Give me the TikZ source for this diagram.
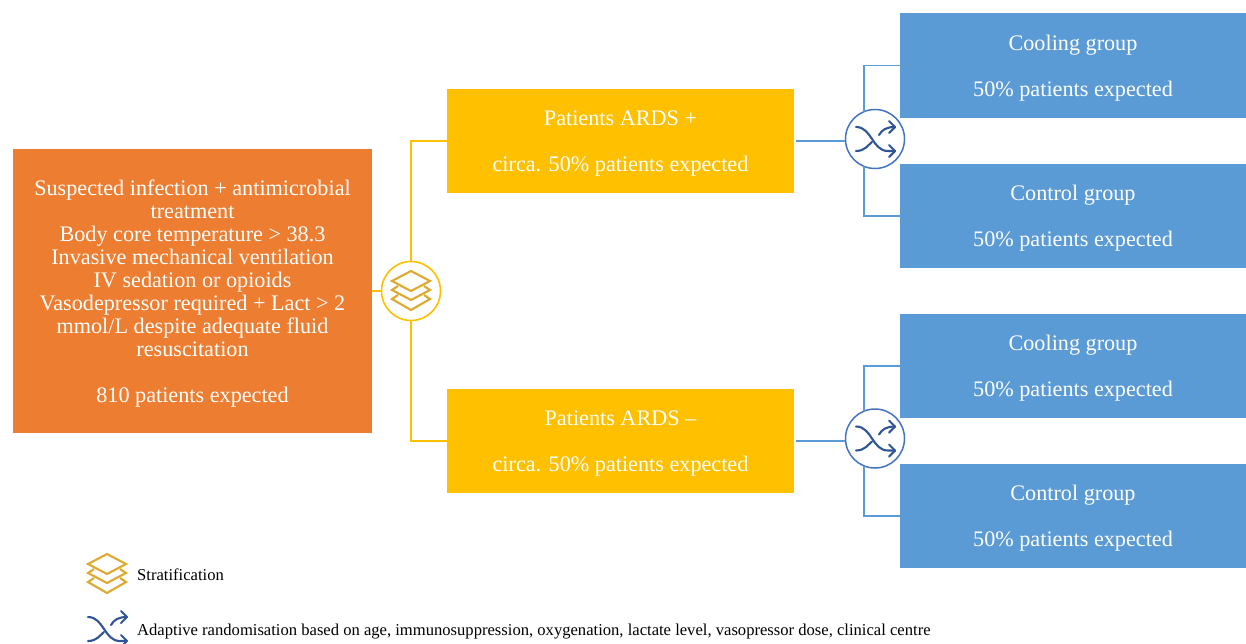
\documentclass[tikz,border=0pt]{standalone}
\usepackage{fontspec}
\setmainfont{Liberation Serif}
\definecolor{orangebox}{HTML}{ED7D31}
\definecolor{yellowbox}{HTML}{FFC000}
\definecolor{bluebox}{HTML}{5B9BD5}
\definecolor{stackcol}{HTML}{DDA92F}
\definecolor{shufflecol}{HTML}{2F5597}
\definecolor{ringblue}{HTML}{4472C4}
\tikzset{
  x=1pt,y=-1pt,
  box/.style={draw=none,inner sep=0pt,text=white,align=center,text depth=0pt,font=\fontsize{22.2}{23}\selectfont},
  orangenode/.style={box,fill=orangebox,minimum width=359pt,minimum height=284pt},
  yellownode/.style={box,fill=yellowbox,minimum width=347pt,minimum height=104pt},
  bluenode/.style={box,fill=bluebox,minimum width=346pt,minimum height=104.4pt},
  yring/.style={circle,draw=yellowbox,line width=1.6pt,fill=white,minimum size=59pt,inner sep=0pt},
  bring/.style={circle,draw=ringblue,line width=1.5pt,fill=white,minimum size=59pt,inner sep=0pt},
  ylink/.style={draw=yellowbox,line width=1.4pt},
  blink/.style={draw=bluebox,line width=1.4pt},
  legend/.style={anchor=west,inner sep=0pt,font=\fontsize{16.6}{18}\selectfont},
  stackicon/.pic={
    \begin{scope}[draw=stackcol,line width=2.1pt,line join=miter]
      \draw (-13,4) -- (-19,8) -- (0,19) -- (19,8) -- (13,4);
      \draw (-13,-5) -- (-19,-1) -- (0,9) -- (19,-1) -- (13,-5);
      \draw (0,-20) -- (-19,-10) -- (0,0) -- (19,-10) -- cycle;
    \end{scope}
  },
  shuffleicon/.pic={
    \begin{scope}[draw=shufflecol,line width=2.1pt,line cap=round,line join=round]
      \draw (-19,-12) .. controls (-3,-12) and (-3,12) .. (13,12) -- (20,12);
      \draw (-19,12) .. controls (-10,12) and (-7,6) .. (-3,3);
      \draw (4,-4) .. controls (7,-9) and (11,-12) .. (20,-12);
      \draw (14,-18) -- (20,-12) -- (14,-6);
      \draw (14,6) -- (20,12) -- (14,18);
    \end{scope}
  }
}
\begin{document}
\begin{tikzpicture}
\useasboundingbox (0,0) rectangle (1246,643);
\node[orangenode] (main) at (192.5,291) {Suspected infection + antimicrobial\\treatment\\Body core temperature > 38.3\\Invasive mechanical ventilation\\IV sedation or opioids\\Vasodepressor required + Lact > 2\\mmol/L despite adequate fluid\\resuscitation\\[23pt]810 patients expected};
\node[yellownode] (plus) at (620.5,141) {Patients ARDS +\\[23pt]circa. 50\% patients expected};
\node[yellownode] (minus) at (620.5,441) {Patients ARDS –\\[23pt]circa. 50\% patients expected};
\node[bluenode] (c1) at (1073,65.5) {Cooling group\\[23pt]50\% patients expected};
\node[bluenode] (k1) at (1073,215.8) {Control group\\[23pt]50\% patients expected};
\node[bluenode] (c2) at (1073,365.8) {Cooling group\\[23pt]50\% patients expected};
\node[bluenode] (k2) at (1073,515.8) {Control group\\[23pt]50\% patients expected};
\node[yring] (strat) at (411,291) {};
\node[bring] (r1) at (875,139) {};
\node[bring] (r2) at (875,438.5) {};
\coordinate (r1in) at (796,141);
\coordinate (r2in) at (796,441);
\draw[ylink] (main.east) -- (strat.west);
\draw[ylink] (strat.north) |- (plus.west);
\draw[ylink] (strat.south) |- (minus.west);
\draw[blink] (r1in) -- (r1in -| r1.west);
\draw[blink] (r2in) -- (r2in -| r2.west);
\draw[blink] (864,112) |- (c1.west);
\draw[blink] (864,166) |- (k1.west);
\draw[blink] (864,411) |- (c2.west);
\draw[blink] (864,466) |- (k2.west);
\pic at (strat.center) {stackicon};
\pic at (r1.center) {shuffleicon};
\pic at (r2.center) {shuffleicon};
\pic at (107,574) {stackicon};
\pic at (107,629) {shuffleicon};
\node[legend] (l1) at (137,574.5) {Stratification};
\node[legend] (l2) at (137,631.5) {Adaptive randomisation based on age, immunosuppression, oxygenation, lactate level, vasopressor dose, clinical centre};
\end{tikzpicture}
\end{document}
